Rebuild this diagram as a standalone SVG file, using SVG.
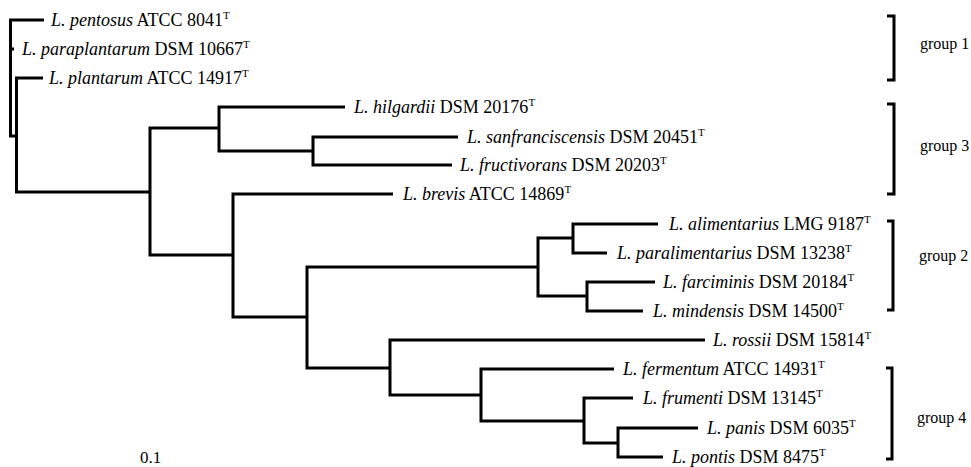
<svg xmlns="http://www.w3.org/2000/svg" width="971" height="467" viewBox="0 0 971 467">
<style>
.t{font-family:"Liberation Serif","Times New Roman",serif;font-size:18px;fill:#000}
.g{font-family:"Liberation Serif","Times New Roman",serif;font-size:16px;fill:#000}
.n{font-family:"Liberation Serif","Times New Roman",serif;font-size:17px;fill:#000}
.i{font-style:italic}
.s{font-size:11px}
.e{fill:none;stroke:#000;stroke-width:3;stroke-linejoin:miter;stroke-linecap:butt}
</style>
<rect width="971" height="467" fill="#fff"/>
<g id="connectors">
<path class="e" d="M44,20 H10.5 V136 H16.5"/>
<path class="e" d="M10.5,49 H14"/>
<path class="e" d="M43,78 H16.5 V192 H150"/>
<path class="e" d="M219,128 H150 V255 H233"/>
<path class="e" d="M345,107 H219 V151 H313"/>
<path class="e" d="M458,137 H313 V165 H452"/>
<path class="e" d="M393,194 H233 V317 H307"/>
<path class="e" d="M538,267 H307 V368 H390"/>
<path class="e" d="M573,238 H538 V296 H587"/>
<path class="e" d="M658,224 H573 V253 H607"/>
<path class="e" d="M655,282 H587 V311 H643"/>
<path class="e" d="M705,340 H390 V395 H481"/>
<path class="e" d="M614,369 H481 V421 H584"/>
<path class="e" d="M633,398 H584 V443 H618"/>
<path class="e" d="M698,428 H618 V457 H663"/>
</g>
<g id="pentosus"><text class="t" x="51" y="26"><tspan class="i">L. pentosus</tspan> ATCC 8041<tspan class="s" dy="-7">T</tspan></text></g>
<g id="paraplantarum"><text class="t" x="22" y="55"><tspan class="i">L. paraplantarum</tspan> DSM 10667<tspan class="s" dy="-7">T</tspan></text></g>
<g id="plantarum"><text class="t" x="49" y="84"><tspan class="i">L. plantarum</tspan> ATCC 14917<tspan class="s" dy="-7">T</tspan></text></g>
<g id="hilgardii"><text class="t" x="354" y="113"><tspan class="i">L. hilgardii</tspan> DSM 20176<tspan class="s" dy="-7">T</tspan></text></g>
<g id="sanfranciscensis"><text class="t" x="467" y="143"><tspan class="i">L. sanfranciscensis</tspan> DSM 20451<tspan class="s" dy="-7">T</tspan></text></g>
<g id="fructivorans"><text class="t" x="460" y="171"><tspan class="i">L. fructivorans</tspan> DSM 20203<tspan class="s" dy="-7">T</tspan></text></g>
<g id="brevis"><text class="t" x="403" y="200"><tspan class="i">L. brevis</tspan> ATCC 14869<tspan class="s" dy="-7">T</tspan></text></g>
<g id="alimentarius"><text class="t" x="669" y="230"><tspan class="i">L. alimentarius</tspan> LMG 9187<tspan class="s" dy="-7">T</tspan></text></g>
<g id="paralimentarius"><text class="t" x="617" y="259"><tspan class="i">L. paralimentarius</tspan> DSM 13238<tspan class="s" dy="-7">T</tspan></text></g>
<g id="farciminis"><text class="t" x="663" y="288"><tspan class="i">L. farciminis</tspan> DSM 20184<tspan class="s" dy="-7">T</tspan></text></g>
<g id="mindensis"><text class="t" x="653" y="317"><tspan class="i">L. mindensis</tspan> DSM 14500<tspan class="s" dy="-7">T</tspan></text></g>
<g id="rossii"><text class="t" x="713" y="346"><tspan class="i">L. rossii</tspan> DSM 15814<tspan class="s" dy="-7">T</tspan></text></g>
<g id="fermentum"><text class="t" x="623" y="375"><tspan class="i">L. fermentum</tspan> ATCC 14931<tspan class="s" dy="-7">T</tspan></text></g>
<g id="frumenti"><text class="t" x="643" y="404"><tspan class="i">L. frumenti</tspan> DSM 13145<tspan class="s" dy="-7">T</tspan></text></g>
<g id="panis"><text class="t" x="707" y="434"><tspan class="i">L. panis</tspan> DSM 6035<tspan class="s" dy="-7">T</tspan></text></g>
<g id="pontis"><text class="t" x="672" y="463"><tspan class="i">L. pontis</tspan> DSM 8475<tspan class="s" dy="-7">T</tspan></text></g>
<g id="group1"><path class="e" d="M887,16 H894 V80 H887"/><text class="g" x="920" y="49">group 1</text></g>
<g id="group3"><path class="e" d="M887,104 H894 V194 H887"/><text class="g" x="920" y="151">group 3</text></g>
<g id="group2"><path class="e" d="M887,221 H893 V310 H887"/><text class="g" x="919" y="261">group 2</text></g>
<g id="group4"><path class="e" d="M886,368 H892 V459 H886"/><text class="g" x="917" y="423">group 4</text></g>
<g id="scale"><text class="n" x="140" y="463">0.1</text></g>
</svg>
